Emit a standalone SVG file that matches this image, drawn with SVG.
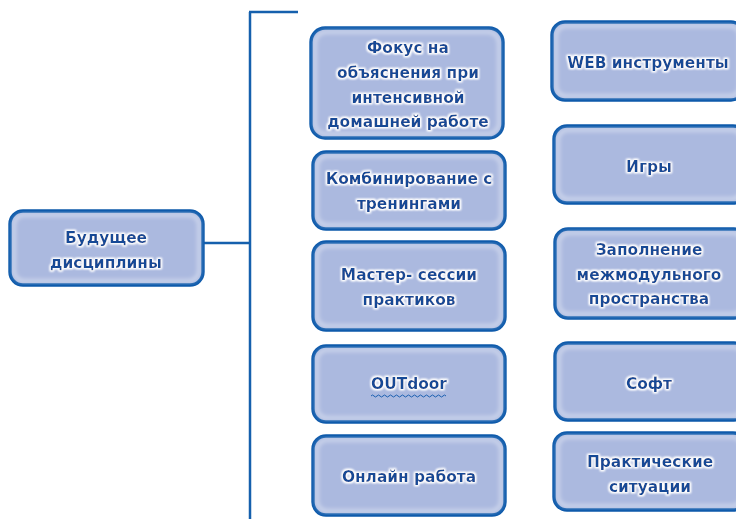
<svg xmlns="http://www.w3.org/2000/svg" width="736" height="519" viewBox="0 0 736 519">
<defs>
<filter id="glow" x="-10%" y="-30%" width="120%" height="160%">
<feMorphology in="SourceAlpha" operator="dilate" radius="1.2" result="d"/>
<feGaussianBlur in="d" stdDeviation="1.3" result="b"/>
<feFlood flood-color="#ffffff"/>
<feComposite in2="b" operator="in" result="w"/>
<feMerge><feMergeNode in="w"/><feMergeNode in="w"/><feMergeNode in="SourceGraphic"/></feMerge>
</filter>
<filter id="soft" x="-5%" y="-5%" width="110%" height="110%">
<feGaussianBlur stdDeviation="2"/>
</filter>
</defs>
<style>
.box{fill:#abb9df;stroke:#0e5aab;stroke-width:3.4}
.inner{fill:none;stroke:#ffffff;stroke-width:3;stroke-opacity:0.5;filter:url(#soft)}
text{font-family:"DejaVu Sans","Liberation Sans",sans-serif;font-weight:bold;font-size:15.4px;fill:#124a96;text-anchor:middle;filter:url(#glow)}
.line{fill:none;stroke:#1560ad;stroke-width:2.5}
</style>
<rect width="736" height="519" fill="#ffffff"/>
<g id="connectors">
<path class="line" d="M203 243 H250"/>
<path class="line" d="M250 12 V519"/>
<path class="line" d="M249 12 H298"/>
</g>
<g id="n0">
<rect class="box" x="10" y="211" width="193" height="74" rx="13"/>
<rect class="inner" x="14" y="215" width="185" height="66" rx="10"/>
<text x="106" y="243">Будущее</text>
<text x="106" y="268">дисциплины</text>
</g>
<g id="l1">
<rect class="box" x="311" y="28" width="192" height="110" rx="14"/>
<rect class="inner" x="315" y="32" width="184" height="102" rx="11"/>
<text x="408" y="53">Фокус на</text>
<text x="408" y="78">объяснения при</text>
<text x="408" y="103">интенсивной</text>
<text x="408" y="127">домашней работе</text>
</g>
<g id="l2">
<rect class="box" x="313" y="152" width="192" height="77" rx="13"/>
<rect class="inner" x="317" y="156" width="184" height="69" rx="10"/>
<text x="409" y="184">Комбинирование с</text>
<text x="409" y="209">тренингами</text>
</g>
<g id="l3">
<rect class="box" x="313" y="242" width="192" height="88" rx="13"/>
<rect class="inner" x="317" y="246" width="184" height="80" rx="10"/>
<text x="409" y="280">Мастер- сессии</text>
<text x="409" y="305">практиков</text>
</g>
<g id="l4">
<rect class="box" x="313" y="346" width="192" height="76" rx="13"/>
<rect class="inner" x="317" y="350" width="184" height="68" rx="10"/>
<text x="409" y="389">OUTdoor</text>
<path d="M371 396 q1.5 -2 3 0 t3 0 t3 0 t3 0 t3 0 t3 0 t3 0 t3 0 t3 0 t3 0 t3 0 t3 0 t3 0 t3 0 t3 0 t3 0 t3 0 t3 0 t3 0 t3 0 t3 0 t3 0 t3 0 t3 0 t3 0" fill="none" stroke="#1a5fb0" stroke-width="1"/>
</g>
<g id="l5">
<rect class="box" x="313" y="436" width="192" height="79" rx="13"/>
<rect class="inner" x="317" y="440" width="184" height="71" rx="10"/>
<text x="409" y="482">Онлайн работа</text>
</g>
<g id="r1">
<rect class="box" x="552" y="22" width="192" height="78" rx="13"/>
<rect class="inner" x="556" y="26" width="184" height="70" rx="10"/>
<text x="648" y="68">WEB инструменты</text>
</g>
<g id="r2">
<rect class="box" x="554" y="126" width="192" height="77" rx="13"/>
<rect class="inner" x="558" y="130" width="184" height="69" rx="10"/>
<text x="649" y="172">Игры</text>
</g>
<g id="r3">
<rect class="box" x="555" y="229" width="192" height="89" rx="13"/>
<rect class="inner" x="559" y="233" width="184" height="81" rx="10"/>
<text x="649" y="255">Заполнение</text>
<text x="649" y="280">межмодульного</text>
<text x="649" y="304">пространства</text>
</g>
<g id="r4">
<rect class="box" x="555" y="343" width="192" height="77" rx="13"/>
<rect class="inner" x="559" y="347" width="184" height="69" rx="10"/>
<text x="649" y="389">Софт</text>
</g>
<g id="r5">
<rect class="box" x="554" y="433" width="192" height="77" rx="13"/>
<rect class="inner" x="558" y="437" width="184" height="69" rx="10"/>
<text x="650" y="467">Практические</text>
<text x="650" y="492">ситуации</text>
</g>
</svg>
